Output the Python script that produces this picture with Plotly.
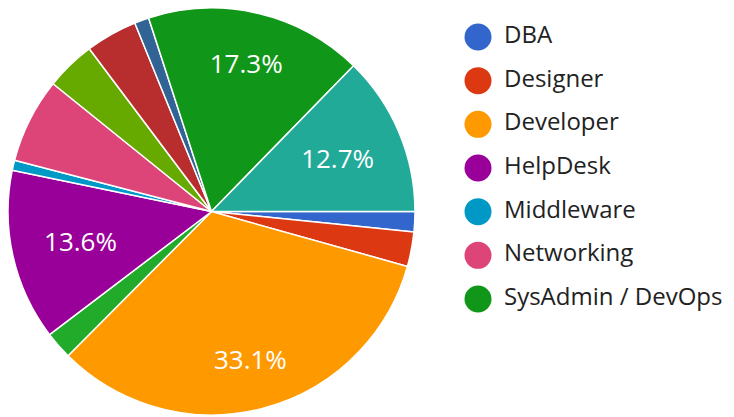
import plotly.graph_objects as go

# Pie slices, clockwise from 3 o'clock
slice_labels = ["DBA", "Designer", "Developer", "Manager", "HelpDesk", "Middleware",
                "Networking", "QA / Tester", "Security", "Student", "SysAdmin / DevOps", "Support"]
slice_values = [1.6, 2.75, 33.1, 2.2, 13.6, 0.8, 6.75, 3.95, 4.1, 1.15, 17.3, 12.7]
slice_colors = ["#3366cc", "#dc3912", "#ff9900", "#22aa2a", "#990099", "#0099c6",
                "#dd4477", "#66aa00", "#b82e2e", "#316395", "#109618", "#22aa99"]
# slices whose percentage is printed (two groups, placed at different radii)
labelled_outer = ["Developer", "SysAdmin / DevOps"]
labelled_inner = ["HelpDesk", "Support"]

# Legend entries shown
legend_labels = ["DBA", "Designer", "Developer", "HelpDesk", "Middleware",
                 "Networking", "SysAdmin / DevOps"]
legend_colors = ["#3366cc", "#dc3912", "#ff9900", "#990099", "#0099c6", "#dd4477", "#109618"]

FONT = "Open Sans"
TRANSPARENT = ["rgba(0,0,0,0)"] * len(slice_labels)

main_domain = dict(x=[0.0, 0.5545], y=[0.024, 1.0])
inner_domain = dict(x=[0.01839, 0.5361], y=[0.05635, 0.96763])

fig = go.Figure()
# coloured pie
fig.add_trace(go.Pie(
    labels=slice_labels, values=slice_values, sort=False,
    direction="clockwise", rotation=90,
    marker=dict(colors=slice_colors, line=dict(color="white", width=1.5)),
    textinfo="none", hoverinfo="skip", showlegend=False,
    domain=main_domain,
))
# percentage labels (outer group)
fig.add_trace(go.Pie(
    labels=slice_labels, values=slice_values, sort=False,
    direction="clockwise", rotation=90, hole=0.5,
    marker=dict(colors=TRANSPARENT, line=dict(width=0)),
    texttemplate=["%{percent:.1%}" if l in labelled_outer else "" for l in slice_labels],
    textposition="inside", insidetextorientation="horizontal",
    insidetextfont=dict(family=FONT, size=26, color="white"),
    hoverinfo="skip", showlegend=False,
    domain=main_domain,
))
# percentage labels (inner group)
fig.add_trace(go.Pie(
    labels=slice_labels, values=slice_values, sort=False,
    direction="clockwise", rotation=90,
    marker=dict(colors=TRANSPARENT, line=dict(width=0)),
    texttemplate=["%{percent:.1%}" if l in labelled_inner else "" for l in slice_labels],
    textposition="inside", insidetextorientation="horizontal",
    insidetextfont=dict(family=FONT, size=26, color="white"),
    hoverinfo="skip", showlegend=False,
    domain=inner_domain,
))

# legend: markers
fig.add_trace(go.Scatter(
    x=[0] * len(legend_labels),
    y=list(range(len(legend_labels))),
    mode="markers",
    marker=dict(size=27, color=legend_colors),
    cliponaxis=False, hoverinfo="skip", showlegend=False,
))
# legend: texts
fig.add_trace(go.Scatter(
    x=[26] * len(legend_labels),
    y=list(range(len(legend_labels))),
    mode="text",
    text=legend_labels,
    textposition="middle right",
    textfont=dict(family=FONT, size=24, color="#222222"),
    cliponaxis=False, hoverinfo="skip", showlegend=False,
))

fig.update_layout(
    width=734, height=417,
    margin=dict(l=0, r=0, t=0, b=0),
    paper_bgcolor="white",
    plot_bgcolor="rgba(0,0,0,0)",
    xaxis=dict(visible=False, range=[-470, 264], domain=[0, 1], fixedrange=True),
    yaxis=dict(visible=False, range=[8.885, -0.664], domain=[0, 1], fixedrange=True),
    font=dict(family=FONT),
)

fig.write_html("out.html")
